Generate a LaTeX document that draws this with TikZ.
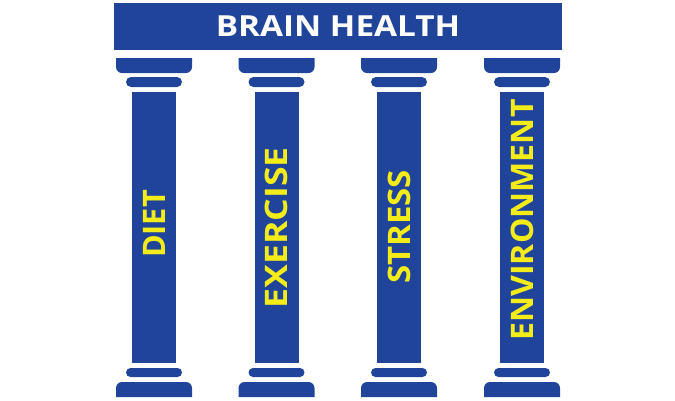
\documentclass[tikz,border=0pt]{standalone}
\usepackage{fontspec}
\setmainfont{Open Sans}
\newfontfamily\widefont[FakeStretch=1.15]{Open Sans}
\definecolor{pblue}{RGB}{33,68,155}
\definecolor{pyellow}{RGB}{243,236,25}
\begin{document}
\begin{tikzpicture}[x=1pt,y=-1pt,
  lbl/.style={rotate=90,text=pyellow,font=\widefont\fontsize{31}{31}\selectfont\bfseries,inner sep=0pt},
  ttl/.style={text=white,font=\widefont\fontsize{29}{29}\selectfont\bfseries,inner sep=0pt}]
\useasboundingbox (0,0) rectangle (675,400);
\fill[pblue] (114,3) rectangle (562,50);
\node[ttl] (title) at (338,26.5) {BRAIN HEALTH};
\foreach \c/\t/\n/\yy/\s in {154/DIET/p1/224/0.86,276.5/EXERCISE/p2/228/1.0,399/STRESS/p3/227/0.926,522/ENVIRONMENT/p4/220/0.9}{
  % capital
  \fill[pblue] (\c-38,58) -- (\c+38,58) [rounded corners=6pt] -- (\c+38,73) -- (\c-38,73) [sharp corners] -- cycle;
  \fill[pblue,rounded corners=5pt] (\c-28,77) rectangle (\c+28,87);
  \fill[pblue] (\c-22,92) rectangle (\c+22,363);
  \fill[pblue,rounded corners=4.5pt] (\c-28,368) rectangle (\c+28,377);
  \fill[pblue] (\c-38,397) -- (\c+38,397) [rounded corners=6pt] -- (\c+38,382) -- (\c-38,382) [sharp corners] -- cycle;
  \node[lbl] (\n) at (\c,\yy) {\scalebox{\s}[1]{\t}};
}
\end{tikzpicture}
\end{document}
